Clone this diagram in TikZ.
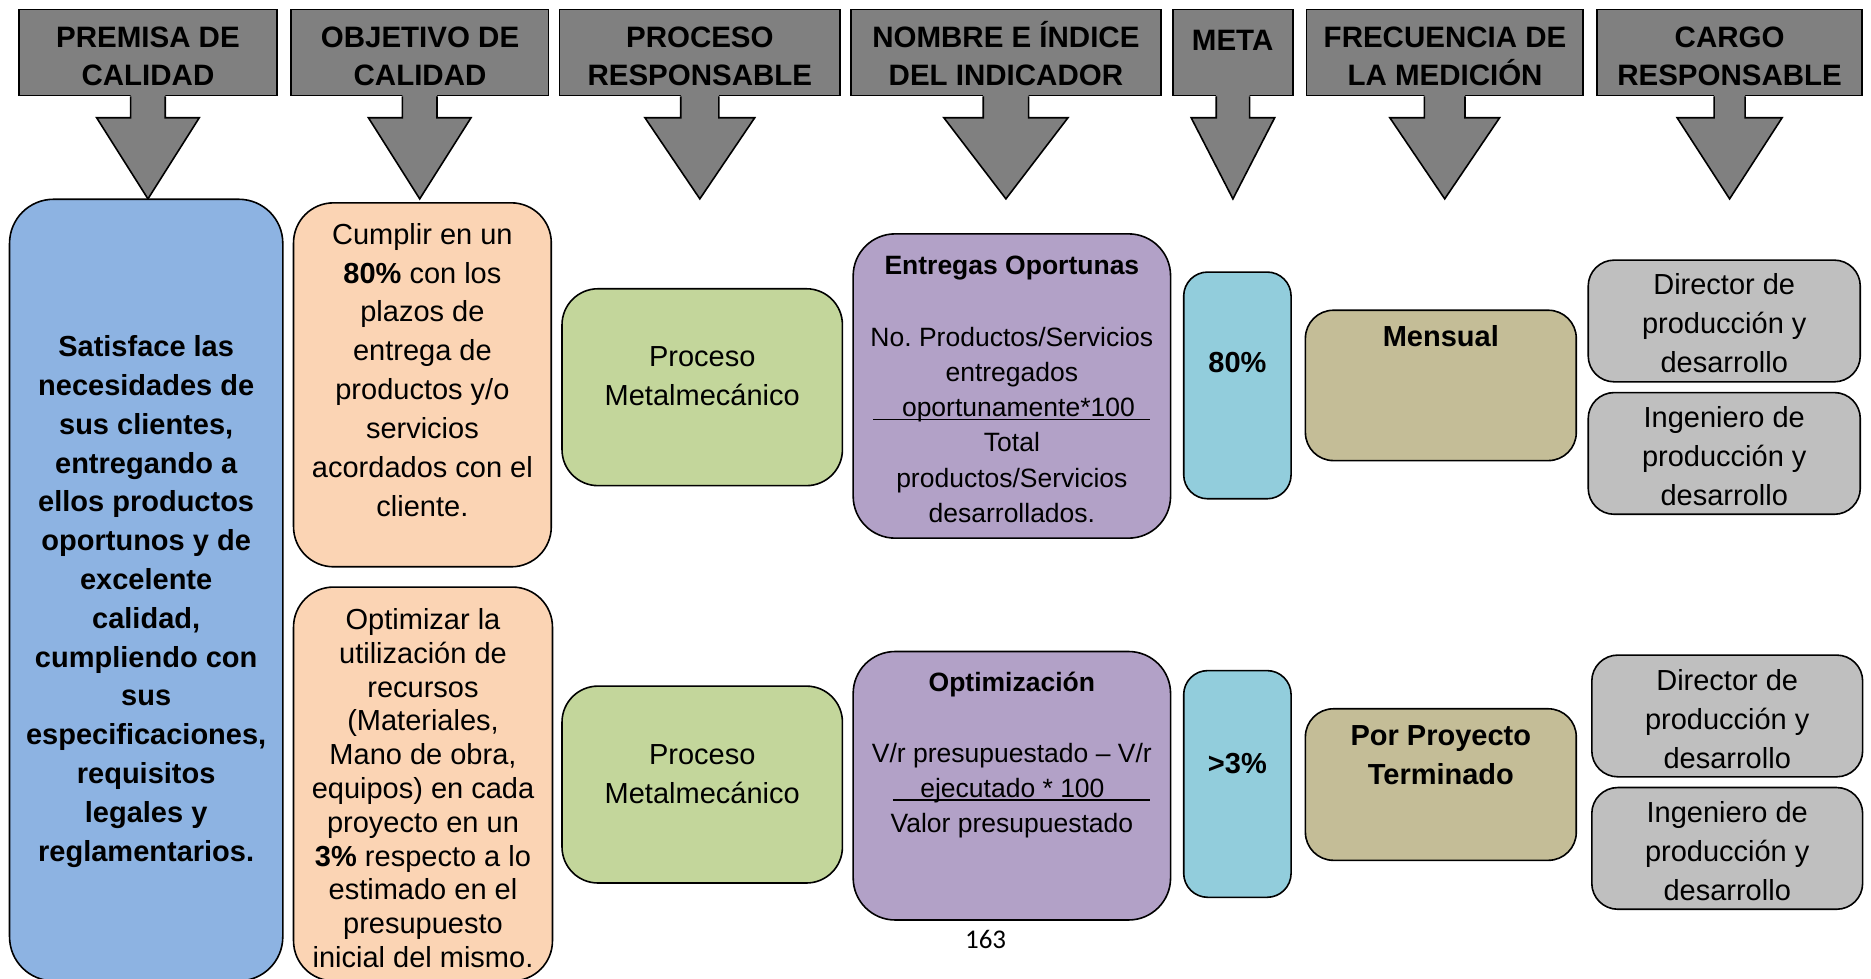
\documentclass[tikz,border=0pt]{standalone}
\usepackage{fontspec}
\setmainfont{Liberation Sans}
\newfontfamily\pagefont{Carlito}
\usetikzlibrary{fit,calc}
\frenchspacing

\definecolor{hdrgray}{HTML}{808080}
\definecolor{cblue}{HTML}{8DB3E2}
\definecolor{cpeach}{HTML}{FBD4B4}
\definecolor{cgreen}{HTML}{C3D69B}
\definecolor{cpurple}{HTML}{B2A1C7}
\definecolor{ccyan}{HTML}{92CDDC}
\definecolor{ctan}{HTML}{C4BD97}
\definecolor{clgray}{HTML}{BFBFBF}

% underlined fraction numerator: lead space, text, trail space
\newcommand{\ulinetext}[3]{%
  \setbox0\hbox{\hspace*{#1}#2\hspace*{#3}}%
  \rlap{\rule[-3.6pt]{\wd0}{1.5pt}}\box0}

% block arrow hanging below a header box: header node, shaft half width, head half width
\newcommand{\hdrarrow}[3]{%
  \fill[hdrgray] ($(#1.south)+(-#2,-1)$) -- ($(#1.south)+(-#2,18)$) -- ($(#1.south)+(-#3,18)$)
    -- ($(#1.south)+(0,86)$) -- ($(#1.south)+(#3,18)$) -- ($(#1.south)+(#2,18)$)
    -- ($(#1.south)+(#2,-1)$) -- cycle;
  \draw[line width=1.6pt, line join=miter] ($(#1.south)+(-#2,0)$) -- ($(#1.south)+(-#2,18)$) -- ($(#1.south)+(-#3,18)$)
    -- ($(#1.south)+(0,86)$) -- ($(#1.south)+(#3,18)$) -- ($(#1.south)+(#2,18)$)
    -- ($(#1.south)+(#2,0)$);
}

\tikzset{
  hdr/.style={draw=black, fill=hdrgray, line width=1.6pt, inner sep=0pt},
  rbox/.style={draw=black, line width=1.6pt, inner sep=0pt, rounded corners=#1},
  hdrtxt/.style={align=center, inner sep=0pt, font=\fontsize{29.5}{38.2}\selectfont\bfseries},
  txt/.style={align=center, inner sep=0pt, font=\fontsize{29}{38.9}\selectfont},
  txtb/.style={txt, font=\fontsize{29}{38.8}\selectfont\bfseries},
  txttight/.style={align=center, inner sep=0pt, font=\fontsize{29}{33.8}\selectfont},
  ptxt/.style={align=center, inner sep=0pt, font=\fontsize{26.5}{35.2}\selectfont},
  ptitle/.style={align=center, inner sep=0pt, font=\fontsize{26.5}{35.2}\selectfont\bfseries},
  gtxt/.style={align=center, inner sep=0pt, font=\fontsize{29}{39}\selectfont},
}

\begin{document}
\begin{tikzpicture}[x=1.1932pt, y=-1.1932pt]
\useasboundingbox (0,0) rectangle (1568,820);
\fill[white] (0,0) rectangle (1568,820);

% ---- column headers ----
\node[hdr, fit={(16,8) (232,80)}] (h1) {};
\node[hdr, fit={(244,8) (459.5,80)}] (h2) {};
\node[hdr, fit={(469,8) (704,80)}] (h3) {};
\node[hdr, fit={(713,8) (973,80)}] (h4) {};
\node[hdr, fit={(983,8) (1083.5,80)}] (h5) {};
\node[hdr, fit={(1095,8) (1326.5,80)}] (h6) {};
\node[hdr, fit={(1338.5,8) (1560.5,80)}] (h7) {};

\node[hdrtxt] (h1t) at (124,47.5) {PREMISA DE\\CALIDAD};
\node[hdrtxt] (h2t) at (352,47.5) {OBJETIVO DE\\CALIDAD};
\node[hdrtxt] (h3t) at (586.5,47.5) {PROCESO\\RESPONSABLE};
\node[hdrtxt] (h4t) at (843,47.5) {NOMBRE E \smash{Í}NDICE\\DEL INDICADOR};
\node[hdrtxt] (h5t) at (1033,34) {META};
\node[hdrtxt] (h6t) at (1211,47.5) {FRECUENCIA DE\\LA MEDICIÓN};
\node[hdrtxt] (h7t) at (1449.5,47.5) {CARGO\\RESPONSABLE};

\hdrarrow{h1}{14.5}{43}
\hdrarrow{h2}{14.5}{43}
\hdrarrow{h3}{16}{46}
\hdrarrow{h4}{19}{52}
\hdrarrow{h5}{14}{35}
\hdrarrow{h6}{17}{46}
\hdrarrow{h7}{13}{44}

% ---- quality premise ----
\node[rbox=44pt, fill=cblue, fit={(8,167) (237,822)}] (prem) {};
\node[txtb] (premt) at (122.5,504) {Satisface las\\necesidades de\\sus clientes,\\entregando a\\ellos productos\\oportunos y de\\excelente\\calidad,\\cumpliendo con\\sus\\especificaciones,\\requisitos\\legales y\\reglamentarios.};

% ---- quality objectives ----
\node[rbox=40pt, fill=cpeach, fit={(246,170) (462,475)}] (obj1) {};
\node[txt] (obj1t) at (354,310) {Cumplir en un\\\textbf{80\%} con los\\plazos de\\entrega de\\productos y/o\\servicios\\acordados con el\\cliente.};
\node[rbox=40pt, fill=cpeach, fit={(246,492) (463,822)}] (obj2) {};
\node[txttight] (obj2t) at (354.5,660.5) {Optimizar la\\utilización de\\recursos\\(Materiales,\\Mano de obra,\\equipos) en cada\\proyecto en un\\\textbf{3\%} respecto a lo\\estimado en el\\presupuesto\\inicial del mismo.};

% ---- responsible process ----
\node[rbox=36pt, fill=cgreen, fit={(471,242) (706,407)}] (proc1) {};
\node[txt] (proc1t) at (588.5,315) {Proceso\\Metalmecánico};
\node[rbox=36pt, fill=cgreen, fit={(471,575) (706,740)}] (proc2) {};
\node[txt] (proc2t) at (588.5,648.5) {Proceso\\Metalmecánico};

% ---- indicators ----
\node[rbox=42pt, fill=cpurple, fit={(715,196) (981,451)}] (ind1) {};
\node[ptitle] (ind1a) at (848,224.5) {Entregas Oportunas};
\node[ptxt] (ind1b) at (848,356) {No. Productos/Servicios\\entregados\\\ulinetext{28.6pt}{oportunamente*100}{15.5pt}\\Total\\productos/Servicios\\desarrollados.};
\node[rbox=42pt, fill=cpurple, fit={(715,546) (981,771)}] (ind2) {};
\node[ptitle] (ind2a) at (848,574) {Optimización};
\node[ptxt] (ind2b) at (848,662.5) {V/r presupuestado – V/r\\\hspace*{19pt}\ulinetext{27.4pt}{ejecutado * 100}{45.3pt}\\Valor presupuestado};

% ---- targets ----
\node[rbox=24pt, fill=ccyan, fit={(992,228) (1082,418)}] (goal1) {};
\node[txtb] (goal1t) at (1037,304) {80\%};
\node[rbox=24pt, fill=ccyan, fit={(992,562) (1082,752)}] (goal2) {};
\node[txtb] (goal2t) at (1037,639.5) {>3\%};

% ---- measurement frequency ----
\node[rbox=28pt, fill=ctan, fit={(1094,260) (1321,386)}] (freq1) {};
\node[txtb] (freq1t) at (1207.5,282) {Mensual};
\node[rbox=28pt, fill=ctan, fit={(1094,594) (1321,721)}] (freq2) {};
\node[txtb, font=\fontsize{29}{39.4}\selectfont\bfseries] (freq2t) at (1207.5,633) {Por Proyecto\\Terminado};

% ---- responsible positions ----
\node[rbox=26pt, fill=clgray, fit={(1331,218) (1559,320)}] (resp1) {};
\node[gtxt] (resp1t) at (1445,271) {Director de\\producción y\\desarrollo};
\node[rbox=26pt, fill=clgray, fit={(1331,329) (1559,431)}] (resp2) {};
\node[gtxt] (resp2t) at (1445,382) {Ingeniero de\\producción y\\desarrollo};
\node[rbox=26pt, fill=clgray, fit={(1334,549) (1561,651)}] (resp3) {};
\node[gtxt] (resp3t) at (1447.5,603) {Director de\\producción y\\desarrollo};
\node[rbox=26pt, fill=clgray, fit={(1334,660) (1561,762)}] (resp4) {};
\node[gtxt] (resp4t) at (1447.5,713) {Ingeniero de\\producción y\\desarrollo};

% ---- page number ----
\node[inner sep=0pt, font=\pagefont\fontsize{27}{32}\selectfont] (pnum) at (826,787) {163};
\end{tikzpicture}
\end{document}
